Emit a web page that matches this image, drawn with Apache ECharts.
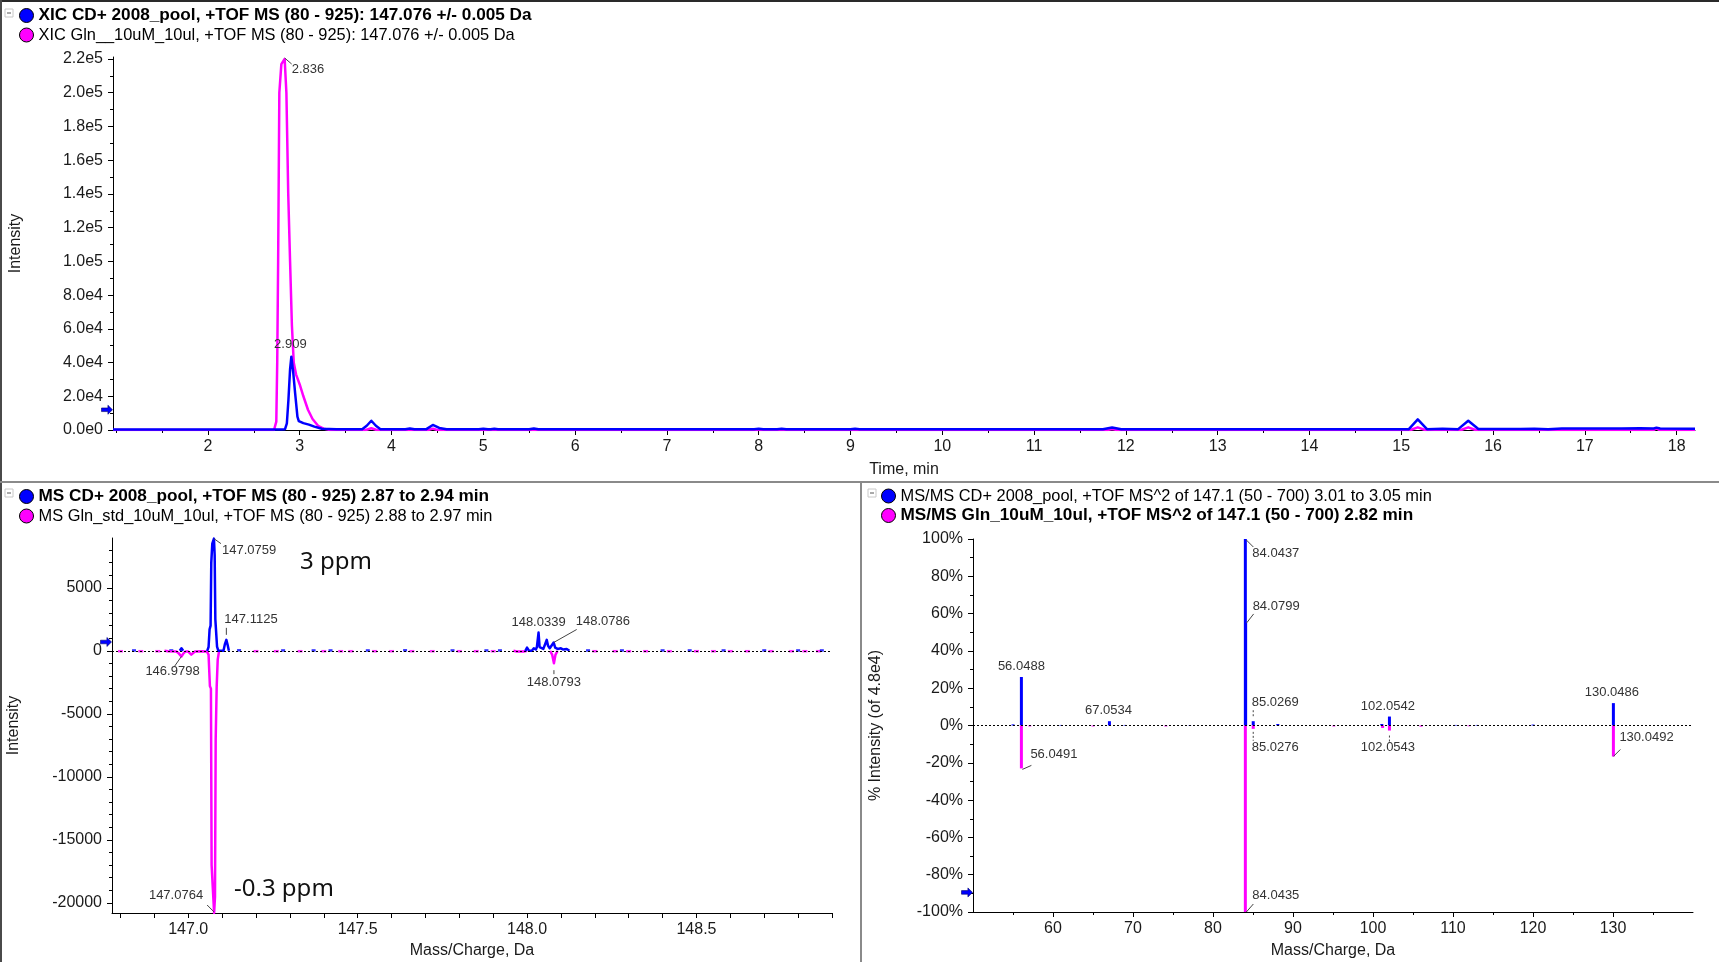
<!DOCTYPE html>
<html>
<head>
<meta charset="utf-8">
<script src="https://cdn.jsdelivr.net/npm/echarts@6/dist/echarts.min.js"></script>
<style>
  html, body { margin: 0; padding: 0; background: #fff; }
  #chart { width: 1719px; height: 962px; }
</style>
</head>
<body>
<div id="chart"></div>
<script>
// ---------- series names (shown in the panel legends) ----------
const xicNames = [
  'XIC CD+ 2008_pool, +TOF MS (80 - 925): 147.076 +/- 0.005 Da',
  'XIC Gln__10uM_10ul, +TOF MS (80 - 925): 147.076 +/- 0.005 Da'
];
const msNames = [
  'MS CD+ 2008_pool, +TOF MS (80 - 925) 2.87 to 2.94 min',
  'MS Gln_std_10uM_10ul, +TOF MS (80 - 925) 2.88 to 2.97 min'
];
const msmsNames = [
  'MS/MS CD+ 2008_pool, +TOF MS^2 of 147.1 (50 - 700) 3.01 to 3.05 min',
  'MS/MS Gln_10uM_10ul, +TOF MS^2 of 147.1 (50 - 700) 2.82 min'
];

// ---------- extracted ion chromatograms: [time (min), intensity] ----------
const xicPool = [
  [0.966, 300], [2.80, 300], [2.84, 500], [2.86, 4000], [2.877, 17800], [2.895, 36000],
  [2.909, 43500], [2.93, 33800], [2.95, 21900], [2.975, 7900], [2.99, 5300], [3.04, 4100],
  [3.10, 3200], [3.16, 2000], [3.24, 700], [3.40, 400], [3.68, 400], [3.73, 2500],
  [3.78, 5500], [3.83, 2500], [3.88, 500], [4.15, 400], [4.20, 900], [4.25, 400],
  [4.38, 500], [4.45, 3000], [4.52, 1200], [4.60, 400], [4.95, 400], [5.00, 800],
  [5.05, 400], [5.08, 400], [5.12, 800], [5.16, 400], [5.50, 400], [5.55, 900],
  [5.60, 400], [7.95, 400], [8.00, 700], [8.05, 400], [8.20, 400], [8.25, 700],
  [8.30, 400], [9.00, 400], [9.05, 700], [9.10, 400], [11.75, 400], [11.85, 1500],
  [11.95, 400], [15.08, 400], [15.18, 6300], [15.28, 500], [15.45, 700], [15.62, 500],
  [15.73, 5500], [15.84, 600], [16.30, 600], [16.45, 800], [16.60, 500], [16.75, 900],
  [17.40, 900], [17.60, 1100], [17.75, 900], [17.78, 1400], [17.82, 900], [18.20, 700]
];
const xicStd = [
  [0.966, 0], [2.72, 0], [2.745, 5000], [2.755, 40000], [2.765, 100000], [2.778, 200000],
  [2.80, 217000], [2.836, 220000], [2.855, 200000], [2.875, 140000], [2.895, 100000],
  [2.915, 62000], [2.935, 40000], [2.96, 33000], [3.00, 27000], [3.04, 20000],
  [3.09, 12000], [3.14, 6500], [3.20, 2500], [3.26, 800], [3.33, 0], [3.72, 0],
  [3.78, 1000], [3.84, 0], [4.40, 0], [4.45, 800], [4.50, 0], [11.80, 0], [11.85, 600],
  [11.90, 0], [15.10, 0], [15.18, 1600], [15.26, 0], [15.65, 0], [15.73, 1600],
  [15.81, 0], [17.75, 0], [17.78, 900], [17.81, 0], [18.20, 0]
];

// ---------- TOF MS profile spectra: [m/z, intensity]; null breaks the trace ----------
const msPool = [
  [146.975, 0], [146.98, 200], [146.985, 0], null,
  [147.056, 0], [147.060, 300], [147.063, 1700], [147.066, 2000], [147.068, 7000],
  [147.071, 8500], [147.0759, 8900], [147.078, 7600], [147.080, 2500], [147.083, 1200],
  [147.085, 340], [147.089, 0], [147.104, 0], [147.108, 500], [147.1125, 870],
  [147.116, 500], [147.120, 0], null,
  [147.995, 0], [148.000, 250], [148.006, 0], [148.014, 0], [148.020, 200], [148.026, 100],
  [148.029, 300], [148.0339, 1450], [148.037, 300], [148.042, 200], [148.048, 150],
  [148.053, 500], [148.058, 870], [148.062, 400], [148.067, 200], [148.072, 350],
  [148.0786, 660], [148.083, 250], [148.090, 150], [148.100, 200], [148.107, 100],
  [148.117, 150], [148.125, 0]
];
// standard spectrum, plotted mirrored below the axis
const msStd = [
  [146.93, 0], [146.94, 40], [146.965, 50], [146.972, 200], [146.9798, 450], [146.986, 200],
  [146.992, 50], [147.000, 60], [147.005, 200], [147.009, 300], [147.013, 150],
  [147.020, 50], [147.040, 40], [147.055, 50], [147.060, 300], [147.064, 2800],
  [147.067, 3000], [147.069, 17000], [147.0764, 20800], [147.079, 19500], [147.081, 7000],
  [147.084, 2800], [147.087, 700], [147.091, 0], null,
  [147.96, 0], [147.97, 50], [147.99, 60], [148.00, 0], null,
  [148.068, 0], [148.074, 300], [148.0793, 980], [148.084, 300], [148.090, 0]
];
// isolated low-level points along the baseline
const msPoolSpecks = [
  [146.84, 30], [146.95, 30], [147.15, 40], [147.28, 30], [147.37, 30], [147.42, 30],
  [147.53, 30], [147.64, 40], [147.78, 30], [147.88, 30], [147.92, 30], [148.18, 30],
  [148.28, 30], [148.40, 30], [148.48, 30], [148.58, 30], [148.70, 30], [148.80, 30],
  [148.87, 30]
];
const msStdSpecks = [
  [146.80, 30], [146.86, 30], [146.91, 30], [147.20, 30], [147.26, 30], [147.33, 30],
  [147.40, 30], [147.45, 30], [147.48, 30], [147.55, 30], [147.60, 30], [147.66, 30],
  [147.72, 30], [147.80, 30], [147.85, 30], [147.90, 30], [148.20, 30], [148.26, 30],
  [148.30, 30], [148.35, 30], [148.42, 30], [148.50, 30], [148.55, 30], [148.60, 30],
  [148.65, 30], [148.72, 30], [148.78, 30], [148.82, 30], [148.86, 30]
];
const msPoolLabeled = [147.0759, 147.1125, 148.0339, 148.0786];
const msStdLabeled = [146.9798, 147.0764, 148.0793];

// ---------- MS/MS centroid spectra: [m/z, % intensity of 4.8e4] ----------
const msmsPool = [
  [55.0, 0.6], [56.0488, 26], [61.0, 0.3], [67.0534, 2.3], [69.0, 0.3], [77.1, 0.2],
  [84.0437, 100], [84.0799, 55], [85.0269, 2.3], [88.1, 0.8], [101.1, 0.8],
  [102.0542, 4.8], [110.3, 0.3], [113.0, 0.3], [120.0, 0.5], [130.0486, 12]
];
const msmsStd = [
  [56.0491, 23], [57.1, 0.5], [65.0, 0.5], [74.1, 0.5], [84.0435, 100], [85.0276, 1.8],
  [95.1, 0.5], [101.2, 1.3], [102.0543, 2.7], [106.0, 0.6], [112.0, 0.4], [130.0492, 16.6]
];
const msmsPoolLabeled = [56.0488, 67.0534, 84.0437, 84.0799, 85.0269, 102.0542, 130.0486];
const msmsStdLabeled = [56.0491, 84.0435, 85.0276, 102.0543, 130.0492];

// level markers drawn at the left of each y axis
const xicMarkerLevel = 12000;
const msMarkerLevel = 700;
const msmsMarkerLevel = -89.5;

// ---------- layout and styling ----------
const FONT = '"Liberation Sans", Arial, sans-serif';
const BLUE = '#0000ff';
const MAGENTA = '#ff00ff';
const INK = '#1a1a1a';

// label placement relative to the annotated point (pixels)
const labelPlacement = {
  '2.836':    { tx: 7,  ty: 10,  align: 'left',   line: [[0, -1], [7, 5]] },
  '2.909':    { tx: -1, ty: -12, align: 'center' },
  '147.0759': { tx: 8,  ty: 12,  align: 'left',   line: [[0, 0], [7, 5]] },
  '147.1125': { tx: -2, ty: -20, align: 'left',   line: [[0, -12], [0, -5]] },
  '146.9798': { tx: -36, ty: 15, align: 'left',   line: [[0, 0], [-7, 10]] },
  '147.0764': { tx: -11, ty: -18, align: 'right', line: [[0, -1], [-7, -8]] },
  '148.0339': { tx: 0,  ty: -10, align: 'center' },
  '148.0786': { tx: 22, ty: -21, align: 'left',   line: [[0, 0], [23, -13]] },
  '148.0793': { tx: 0,  ty: 19,  align: 'center', line: [[0, 7], [0, 11]] },
  '56.0488':  { tx: 0,  ty: -11, align: 'center' },
  '56.0491':  { tx: 9,  ty: -14, align: 'left',   line: [[1, 1], [10, -3]] },
  '67.0534':  { tx: -1, ty: -11, align: 'center' },
  '84.0437':  { tx: 7,  ty: 14,  align: 'left',   line: [[1, 1], [8, 8]] },
  '84.0799':  { tx: 7,  ty: -17, align: 'left',   line: [[1, 0], [8, -9]] },
  '85.0269':  { tx: -1.5, ty: -19, align: 'left', line: [[0, -11], [0, -3]], dashed: true },
  '85.0276':  { tx: -1.5, ty: 18.5, align: 'left', line: [[0, 3], [0, 12]], dashed: true },
  '84.0435':  { tx: 7,  ty: -16.5, align: 'left', line: [[1, 0], [8, -8]] },
  '102.0542': { tx: -1.5, ty: -10, align: 'center' },
  '102.0543': { tx: -1.5, ty: 17, align: 'center', line: [[0, 5], [0, 12]], dashed: true },
  '130.0486': { tx: -1.5, ty: -11, align: 'center' },
  '130.0492': { tx: 6,  ty: -19, align: 'left',   line: [[0, 0], [7, -7]] }
};

// ---------- helpers ----------
function steps(from, to, step) {
  const out = [];
  const n = Math.round((to - from) / step);
  for (let i = 0; i <= n; i++) out.push(+(from + i * step).toFixed(6));
  return out;
}
const gapToBreak = arr => arr.map(p => (p === null ? ['-', '-'] : p));
const mirrored = arr => arr.map(p => (p === null ? ['-', '-'] : [p[0], -p[1]]));
const findPoint = (arr, x) => arr.find(p => p && p[0] === x);
const apexOf = arr => arr.reduce((a, b) => (b[1] > a[1] ? b : a));

// points annotated with their own x value
function annotations(points, digits) {
  return points.map(p => ({ value: [p[0], p[1]], text: p[0].toFixed(digits) }));
}

function annotationSeries(xi, yi, items) {
  return {
    type: 'custom',
    coordinateSystem: 'cartesian2d',
    xAxisIndex: xi,
    yAxisIndex: yi,
    silent: true,
    z: 10,
    data: items.map(it => it.value),
    renderItem(params, api) {
      const pt = api.coord([api.value(0), api.value(1)]);
      const text = items[params.dataIndex].text;
      const s = labelPlacement[text];
      const children = [{
        type: 'text',
        x: pt[0] + s.tx,
        y: pt[1] + s.ty,
        style: {
          text, fill: '#333', fontSize: 13, fontFamily: FONT,
          align: s.align, verticalAlign: 'middle'
        }
      }];
      if (s.line) {
        children.push({
          type: 'line',
          shape: {
            x1: pt[0] + s.line[0][0], y1: pt[1] + s.line[0][1],
            x2: pt[0] + s.line[1][0], y2: pt[1] + s.line[1][1]
          },
          style: { stroke: '#444', lineWidth: 1, lineDash: s.dashed ? [2, 2] : null }
        });
      }
      return { type: 'group', children };
    }
  };
}

function markerAt(x, y) {
  return {
    silent: true,
    symbol: 'path://M0,3L7,3L7,0L12,5L7,10L7,7L0,7Z',
    symbolSize: [11, 9],
    symbolOffset: [-6, 0],
    itemStyle: { color: BLUE, borderColor: '#00006a', borderWidth: 0.6 },
    label: { show: false },
    data: [{ coord: [x, y] }]
  };
}

const zeroLine = {
  silent: true,
  symbol: 'none',
  label: { show: false },
  lineStyle: { color: '#000', type: [2, 2], width: 1 },
  data: [{ yAxis: 0 }]
};

// main axis
function mainX(grid, min, max, labelVals, tickVals, fmt, name, gap) {
  return {
    gridIndex: grid, type: 'value', min, max,
    axisLine: { onZero: false, lineStyle: { color: '#000', width: 1 } },
    axisTick: { length: 5, customValues: tickVals, lineStyle: { color: '#000' } },
    axisLabel: { customValues: labelVals, formatter: fmt, fontSize: 16, color: INK, margin: 9, fontFamily: FONT },
    splitLine: { show: false },
    name, nameLocation: 'middle', nameGap: gap,
    nameTextStyle: { fontSize: 16, color: INK, fontFamily: FONT }
  };
}
function mainY(grid, min, max, labelVals, tickVals, fmt, name, gap) {
  return {
    gridIndex: grid, type: 'value', min, max, position: 'left',
    axisLine: { show: true, onZero: false, lineStyle: { color: '#000', width: 1 } },
    axisTick: { show: true, length: 5, customValues: tickVals, lineStyle: { color: '#000' } },
    axisLabel: { customValues: labelVals, formatter: fmt, fontSize: 16, color: INK, margin: 10, fontFamily: FONT },
    splitLine: { show: false },
    name, nameLocation: 'middle', nameGap: gap, nameRotate: 90,
    nameTextStyle: { fontSize: 16, color: INK, fontFamily: FONT }
  };
}
// overlay axis carrying only the short minor ticks
function minorX(grid, min, max, tickVals) {
  return {
    gridIndex: grid, type: 'value', min, max, position: 'bottom',
    axisLine: { show: false, onZero: false },
    axisTick: { show: true, length: 3, customValues: tickVals, lineStyle: { color: '#000' } },
    axisLabel: { show: false }, splitLine: { show: false }
  };
}
function minorY(grid, min, max, tickVals) {
  return {
    gridIndex: grid, type: 'value', min, max, position: 'left',
    axisLine: { show: false, onZero: false },
    axisTick: { show: true, length: 3, customValues: tickVals, lineStyle: { color: '#000' } },
    axisLabel: { show: false }, splitLine: { show: false }
  };
}

const expFmt = v => v.toExponential(1).replace('e+', 'e');

// ---------- axis ranges ----------
const XIC_X = [0.966, 18.2], XIC_Y = [0, 221200];
const MS_X = [146.775, 148.9], MS_Y = [-20800, 8950];
const MSMS_X = [50, 140], MSMS_Y = [-100, 100];

const xAxes = [
  mainX(0, XIC_X[0], XIC_X[1], steps(2, 18, 1), steps(2, 18, 1), v => String(v), 'Time, min', 32),
  mainX(1, MS_X[0], MS_X[1], steps(147, 148.5, 0.5), steps(146.8, 148.9, 0.1), v => v.toFixed(1), 'Mass/Charge, Da', 30),
  mainX(2, MSMS_X[0], MSMS_X[1], steps(60, 130, 10), steps(60, 130, 10), v => String(v), 'Mass/Charge, Da', 31),
  minorX(0, XIC_X[0], XIC_X[1], steps(1, 17.5, 0.5).filter(v => v % 1 !== 0 || v === 1)),
  minorX(2, MSMS_X[0], MSMS_X[1], steps(55, 135, 10))
];
const yAxes = [
  mainY(0, XIC_Y[0], XIC_Y[1], steps(0, 220000, 20000), steps(0, 220000, 20000), expFmt, 'Intensity', 89),
  mainY(1, MS_Y[0], MS_Y[1], steps(-20000, 5000, 5000), steps(-20000, 5000, 5000), v => String(v), 'Intensity', 90),
  mainY(2, MSMS_Y[0], MSMS_Y[1], steps(-100, 100, 20), steps(-100, 100, 20), v => v + '%', '% Intensity (of 4.8e4)', 89),
  minorY(0, XIC_Y[0], XIC_Y[1], steps(10000, 210000, 20000)),
  minorY(1, MS_Y[0], MS_Y[1], steps(-20000, 8000, 1000).filter(v => v % 5000 !== 0)),
  minorY(2, MSMS_Y[0], MSMS_Y[1], steps(-90, 90, 20))
];

// ---------- annotated points ----------
const xicAnnot = annotations([apexOf(xicStd), apexOf(xicPool)], 3);
const msAnnot = annotations(
  msPoolLabeled.map(x => findPoint(msPool, x))
    .concat(msStdLabeled.map(x => { const p = findPoint(msStd, x); return [p[0], -p[1]]; })), 4);
const msmsAnnot = annotations(
  msmsPoolLabeled.map(x => findPoint(msmsPool, x))
    .concat(msmsStdLabeled.map(x => { const p = findPoint(msmsStd, x); return [p[0], -p[1]]; })), 4);

const lineBase = {
  type: 'line', showSymbol: false, symbol: 'none', connectNulls: false,
  animation: false, silent: true
};

const BOLD_ROW = { fontWeight: 'bold', fontSize: 17.2 };
const legendBase = {
  orient: 'vertical', icon: 'circle', itemWidth: 14, itemHeight: 14, itemGap: 3,
  padding: 0, selectedMode: false,
  itemStyle: { borderColor: '#000', borderWidth: 1 },
  textStyle: { fontSize: 16.4, color: '#000', fontFamily: FONT }
};

const option = {
  animation: false,
  backgroundColor: '#fff',
  textStyle: { fontFamily: FONT },
  grid: [
    { left: 111, right: 24, top: 57, bottom: 532 },
    { left: 112, right: 887, top: 538, bottom: 49 },
    { left: 973, right: 26, top: 539, bottom: 50 }
  ],
  xAxis: xAxes,
  yAxis: yAxes,
  legend: [
    Object.assign({}, legendBase, {
      left: 19, top: 7,
      data: [{ name: xicNames[0], textStyle: BOLD_ROW }, { name: xicNames[1] }]
    }),
    Object.assign({}, legendBase, {
      left: 19, top: 488,
      data: [{ name: msNames[0], textStyle: BOLD_ROW }, { name: msNames[1] }]
    }),
    Object.assign({}, legendBase, {
      left: 881, top: 488,
      data: [{ name: msmsNames[0] }, { name: msmsNames[1], textStyle: BOLD_ROW }]
    })
  ],
  series: [
    // chromatograms
    Object.assign({}, lineBase, {
      name: xicNames[1], xAxisIndex: 0, yAxisIndex: 0, color: MAGENTA,
      lineStyle: { width: 2.5, color: MAGENTA, join: 'round' },
      data: xicStd
    }),
    Object.assign({}, lineBase, {
      name: xicNames[0], xAxisIndex: 0, yAxisIndex: 0, color: BLUE,
      lineStyle: { width: 2.5, color: BLUE, join: 'round' },
      data: xicPool,
      markPoint: markerAt(XIC_X[0], xicMarkerLevel)
    }),
    annotationSeries(0, 0, xicAnnot),

    // TOF MS profiles
    Object.assign({}, lineBase, {
      name: msNames[1], xAxisIndex: 1, yAxisIndex: 1, color: MAGENTA,
      lineStyle: { width: 2.5, color: MAGENTA, join: 'round' },
      data: mirrored(msStd),
      markLine: zeroLine
    }),
    Object.assign({}, lineBase, {
      name: msNames[0], xAxisIndex: 1, yAxisIndex: 1, color: BLUE,
      lineStyle: { width: 2.5, color: BLUE, join: 'round' },
      data: gapToBreak(msPool),
      markPoint: markerAt(MS_X[0], msMarkerLevel)
    }),
    {
      type: 'scatter', name: 'std baseline points', xAxisIndex: 1, yAxisIndex: 1, silent: true,
      symbol: 'rect', symbolSize: [5, 2.5], itemStyle: { color: MAGENTA },
      data: mirrored(msStdSpecks)
    },
    {
      type: 'scatter', name: 'pool baseline points', xAxisIndex: 1, yAxisIndex: 1, silent: true,
      symbol: 'rect', symbolSize: [4, 2.5], itemStyle: { color: BLUE },
      data: msPoolSpecks
    },
    annotationSeries(1, 1, msAnnot),

    // MS/MS stick spectra
    {
      type: 'bar', name: msmsNames[0], xAxisIndex: 2, yAxisIndex: 2, color: BLUE,
      barWidth: 3, barGap: '-100%', silent: true,
      itemStyle: { color: BLUE },
      data: msmsPool,
      markLine: zeroLine,
      markPoint: markerAt(MSMS_X[0], msmsMarkerLevel)
    },
    {
      type: 'bar', name: msmsNames[1], xAxisIndex: 2, yAxisIndex: 2, color: MAGENTA,
      barWidth: 3, barGap: '-100%', silent: true,
      itemStyle: { color: MAGENTA },
      data: mirrored(msmsStd)
    },
    annotationSeries(2, 2, msmsAnnot)
  ],
  graphic: [
    // panel frame and separators
    { type: 'rect', silent: true, shape: { x: 0, y: 0, width: 1719, height: 2 }, style: { fill: '#2a2a2a' } },
    { type: 'rect', silent: true, shape: { x: 0, y: 0, width: 2, height: 962 }, style: { fill: '#4a4a4a' } },
    { type: 'rect', silent: true, shape: { x: 0, y: 481, width: 1719, height: 2 }, style: { fill: '#8a8a8a' } },
    { type: 'rect', silent: true, shape: { x: 860, y: 482, width: 2, height: 480 }, style: { fill: '#8a8a8a' } },
    // collapse boxes next to each legend
    { type: 'rect', silent: true, shape: { x: 5, y: 9, width: 8, height: 8 }, style: { fill: '#fff', stroke: '#c8c8c8', lineWidth: 1 } },
    { type: 'line', silent: true, shape: { x1: 7, y1: 13, x2: 11, y2: 13 }, style: { stroke: '#555', lineWidth: 1 } },
    { type: 'rect', silent: true, shape: { x: 5, y: 489, width: 8, height: 8 }, style: { fill: '#fff', stroke: '#c8c8c8', lineWidth: 1 } },
    { type: 'line', silent: true, shape: { x1: 7, y1: 493, x2: 11, y2: 493 }, style: { stroke: '#555', lineWidth: 1 } },
    { type: 'rect', silent: true, shape: { x: 868, y: 489, width: 8, height: 8 }, style: { fill: '#fff', stroke: '#c8c8c8', lineWidth: 1 } },
    { type: 'line', silent: true, shape: { x1: 870, y1: 493, x2: 874, y2: 493 }, style: { stroke: '#555', lineWidth: 1 } },
    // mass-accuracy notes
    { type: 'text', silent: true, x: 300, y: 562, style: { text: '3 ppm', fill: '#111', fontSize: 24, fontFamily: '"Noto Sans", sans-serif', verticalAlign: 'middle' } },
    { type: 'text', silent: true, x: 234, y: 889, style: { text: '-0.3 ppm', fill: '#111', fontSize: 24, fontFamily: '"Noto Sans", sans-serif', verticalAlign: 'middle' } }
  ]
};

const chart = echarts.init(document.getElementById('chart'), null, { renderer: 'canvas' });
chart.setOption(option);
</script>
</body>
</html>
